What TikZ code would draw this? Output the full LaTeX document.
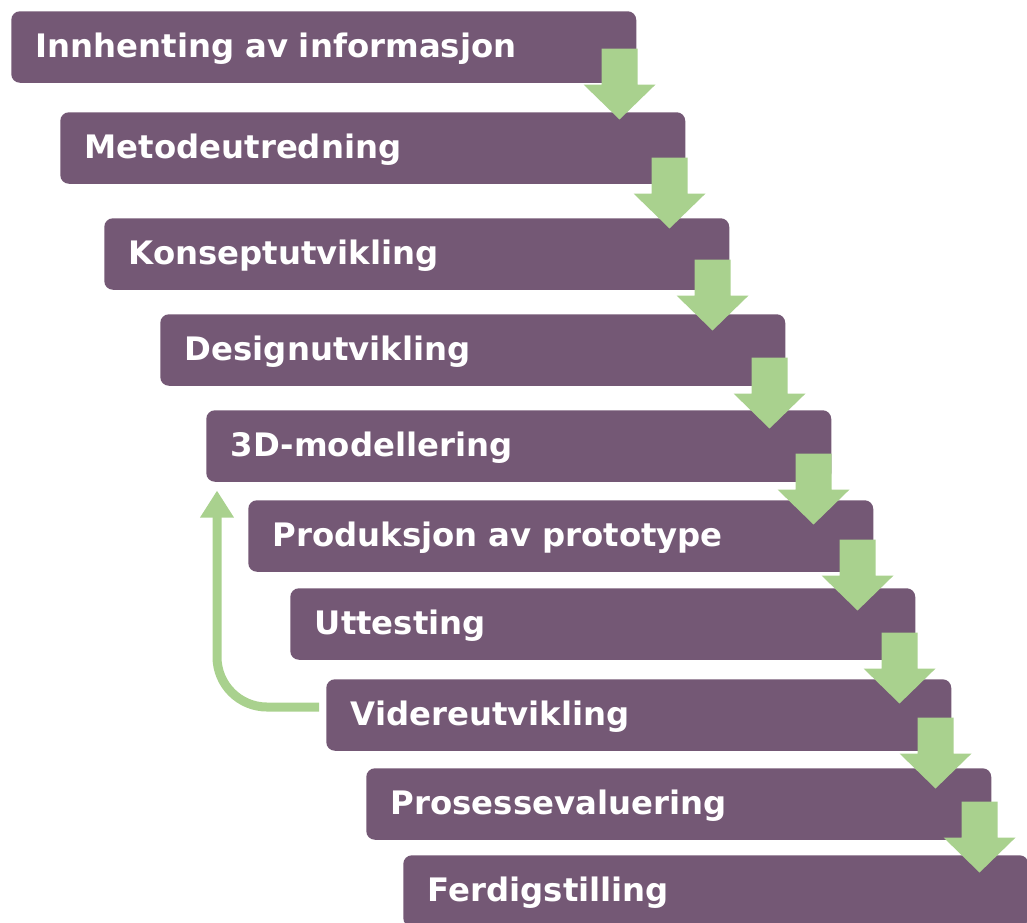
\documentclass[tikz,border=0pt]{standalone}
\usepackage{fontspec}
\setmainfont{DejaVu Sans}
\usetikzlibrary{calc,arrows.meta}
\definecolor{stepfill}{HTML}{745875}
\definecolor{arrowgreen}{HTML}{A9D18E}
\begin{document}
\begin{tikzpicture}[x=0.75pt,y=-0.75pt,
  stepbox/.style={anchor=north west, fill=stepfill, draw=none,
    rounded corners=6.5pt, minimum width=468.75pt, minimum height=53.625pt,
    inner xsep=18.4pt, inner ysep=0pt, text width=431.95pt, align=left,
    text height=20pt, text depth=4.62pt, text=white,
    font=\bfseries\fontsize{24.25pt}{29pt}\selectfont},
  downarr/.pic={\fill[arrowgreen] (0,0) -- (0,36) -- (18,36) -- (-18,71)
    -- (-54,36) -- (-36,36) -- (-36,0) -- cycle;}]
\useasboundingbox (0,0) rectangle (1027,923);
\clip (0,0) rectangle (1027,923);

% process steps
\node[stepbox] (b1)  at (11,11)   {Innhenting av informasjon};
\node[stepbox] (b2)  at (60,112)  {Metodeutredning};
\node[stepbox] (b3)  at (104,218) {Konseptutvikling};
\node[stepbox] (b4)  at (160,314) {Designutvikling};
\node[stepbox] (b5)  at (206,410) {3D-modellering};
\node[stepbox] (b6)  at (248,500) {Produksjon av prototype};
\node[stepbox] (b7)  at (290,588) {Uttesting};
\node[stepbox] (b8)  at (326,679) {Videreutvikling};
\node[stepbox] (b9)  at (366,768) {Prosessevaluering};
\node[stepbox] (b10) at (403,855) {Ferdigstilling};

% block arrows between consecutive steps
\pic at ($(b1.south east)+(1,-34.5)$) {downarr};
\pic at ($(b2.south east)+(2,-26.5)$) {downarr};
\pic at ($(b3.south east)+(1,-30.5)$) {downarr};
\pic at ($(b4.south east)+(2,-28.5)$) {downarr};
\pic at ($(b5.south east)+(0,-28.5)$) {downarr};
\pic at ($(b6.south east)+(2,-32.5)$) {downarr};
\pic at ($(b7.south east)+(2,-27.5)$) {downarr};
\pic at ($(b8.south east)+(2,-33.5)$) {downarr};
\pic at ($(b9.south east)+(6,-38.5)$) {downarr};

% feedback loop from Videreutvikling back to 3D-modellering
\coordinate (loopstart) at ($(b8.west)+(-7,-8)$);
\coordinate (loopend) at ($(b5.south west)+(11,8.5)$);
\draw[arrowgreen, line width=6.75pt, rounded corners=37.5pt,
  -{Triangle[length=20.25pt,width=24pt]}]
  (loopstart) -- (loopend |- loopstart) -- (loopend);
\end{tikzpicture}
\end{document}
